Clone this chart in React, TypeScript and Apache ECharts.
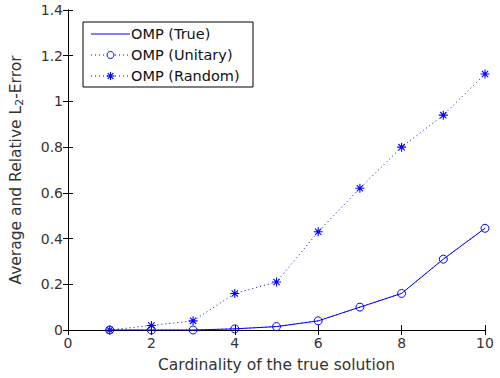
import React, { useEffect, useRef } from "react";
import * as echarts from "echarts";

const cardinality = [1, 2, 3, 4, 5, 6, 7, 8, 9, 10];
const ompTrue = [0, 0, 0, 0.005, 0.015, 0.04, 0.1, 0.16, 0.31, 0.445];
const ompUnitary = [0, 0, 0, 0.005, 0.015, 0.04, 0.1, 0.16, 0.31, 0.445];
const ompRandom = [0, 0.02, 0.04, 0.16, 0.21, 0.43, 0.62, 0.8, 0.94, 1.12];
const seriesNames = ["OMP (True)", "OMP (Unitary)", "OMP (Random)"];

const BLUE = "#0000ff";
const FONT = "DejaVu Sans, Verdana, sans-serif";
const TXT = "#333";
const star = "path://M0,-1L0,1M-1,0L1,0M-0.7,-0.7L0.7,0.7M-0.7,0.7L0.7,-0.7";

export default function App() {
  const ref = useRef<HTMLDivElement>(null);
  useEffect(() => {
    if (!ref.current) return;
    const chart = echarts.init(ref.current, undefined, { renderer: "svg" });
    const pts = (arr: number[]) => cardinality.map((c, i) => [c, arr[i]]);
    const axisLine = { show: true, lineStyle: { color: "#000", width: 1 } };
    const tick = { show: true, inside: true, length: 5, lineStyle: { color: "#000" } };

    // legend drawn as graphic
    const lx = 83, ly = 22, lw = 170, lh = 65;
    const rows = [34, 55, 76];
    const dotted = [1, 3];
    const legend: any[] = [
      { type: "rect", shape: { x: lx, y: ly, width: lw, height: lh }, style: { fill: "#fff", stroke: "#000", lineWidth: 1 }, z: 100 },
    ];
    rows.forEach((ry, i) => {
      legend.push({
        type: "line",
        shape: { x1: 91, y1: ry, x2: 130, y2: ry },
        style: { stroke: BLUE, lineWidth: 1, lineDash: i === 0 ? null : dotted },
        z: 101,
      });
      legend.push({
        type: "text",
        x: 131,
        y: ry,
        style: { text: seriesNames[i], fontFamily: FONT, fontSize: 14.5, fill: "#111", verticalAlign: "middle", align: "left" },
        z: 101,
      });
    });
    legend.push({ type: "circle", shape: { cx: 110.5, cy: rows[1], r: 3.5 }, style: { fill: "#fff", stroke: BLUE, lineWidth: 1 }, z: 102 });
    legend.push({ type: "line", shape: { x1: 110.5, y1: rows[2] - 4, x2: 110.5, y2: rows[2] + 4 }, style: { stroke: BLUE, lineWidth: 1.2 }, z: 102 });
    legend.push({ type: "line", shape: { x1: 106.5, y1: rows[2], x2: 114.5, y2: rows[2] }, style: { stroke: BLUE, lineWidth: 1.2 }, z: 102 });
    legend.push({ type: "line", shape: { x1: 107.7, y1: rows[2] - 2.8, x2: 113.3, y2: rows[2] + 2.8 }, style: { stroke: BLUE, lineWidth: 1.2 }, z: 102 });
    legend.push({ type: "line", shape: { x1: 107.7, y1: rows[2] + 2.8, x2: 113.3, y2: rows[2] - 2.8 }, style: { stroke: BLUE, lineWidth: 1.2 }, z: 102 });

    chart.setOption({
      animation: false,
      backgroundColor: "#fff",
      textStyle: { fontFamily: FONT },
      grid: { left: 66, right: 15, top: 10, bottom: 46, containLabel: false },
      graphic: legend,
      xAxis: [
        {
          type: "value",
          min: 0,
          max: 10,
          interval: 2,
          name: "Cardinality of the true solution",
          nameLocation: "middle",
          nameGap: 27,
          nameTextStyle: { fontFamily: FONT, fontSize: 15.5, color: TXT },
          axisLine,
          axisTick: tick,
          axisLabel: { fontFamily: FONT, fontSize: 14, color: TXT, margin: 6 },
          splitLine: { show: false },
        },
        {
          type: "value",
          position: "top",
          min: 0,
          max: 10,
          interval: 2,
          axisLine,
          axisTick: tick,
          axisLabel: { show: false },
          splitLine: { show: false },
        },
      ],
      yAxis: [
        {
          type: "value",
          min: 0,
          max: 1.4,
          interval: 0.2,
          name: "Average and Relative L{sub|2}-Error",
          nameLocation: "middle",
          nameGap: 43,
          nameTextStyle: {
            fontFamily: FONT,
            fontSize: 15.5,
            color: TXT,
            rich: { sub: { fontSize: 11, fontFamily: FONT, color: TXT, verticalAlign: "bottom", padding: [7, 0, 0, 0] } },
          },
          axisLine,
          axisTick: tick,
          axisLabel: { fontFamily: FONT, fontSize: 14, color: TXT, margin: 5 },
          splitLine: { show: false },
        },
        {
          type: "value",
          position: "right",
          min: 0,
          max: 1.4,
          interval: 0.2,
          axisLine,
          axisTick: tick,
          axisLabel: { show: false },
          splitLine: { show: false },
        },
      ],
      series: [
        {
          name: seriesNames[0],
          type: "line",
          data: pts(ompTrue),
          showSymbol: false,
          symbol: "none",
          lineStyle: { color: BLUE, width: 1, type: "solid" },
          itemStyle: { color: BLUE },
        },
        {
          name: seriesNames[1],
          type: "line",
          data: pts(ompUnitary),
          symbol: "circle",
          symbolSize: 8,
          lineStyle: { color: BLUE, width: 1, type: dotted },
          itemStyle: { color: "rgba(255,255,255,0)", borderColor: BLUE, borderWidth: 1 },
        },
        {
          name: seriesNames[2],
          type: "line",
          data: pts(ompRandom),
          symbol: star,
          symbolSize: 9,
          lineStyle: { color: BLUE, width: 1, type: dotted },
          itemStyle: { color: BLUE, borderColor: BLUE, borderWidth: 1.1 },
        },
      ],
    });
    return () => chart.dispose();
  }, []);
  return <div ref={ref} style={{ width: 500, height: 378, position: "absolute", left: 0, top: 0 }} />;
}
